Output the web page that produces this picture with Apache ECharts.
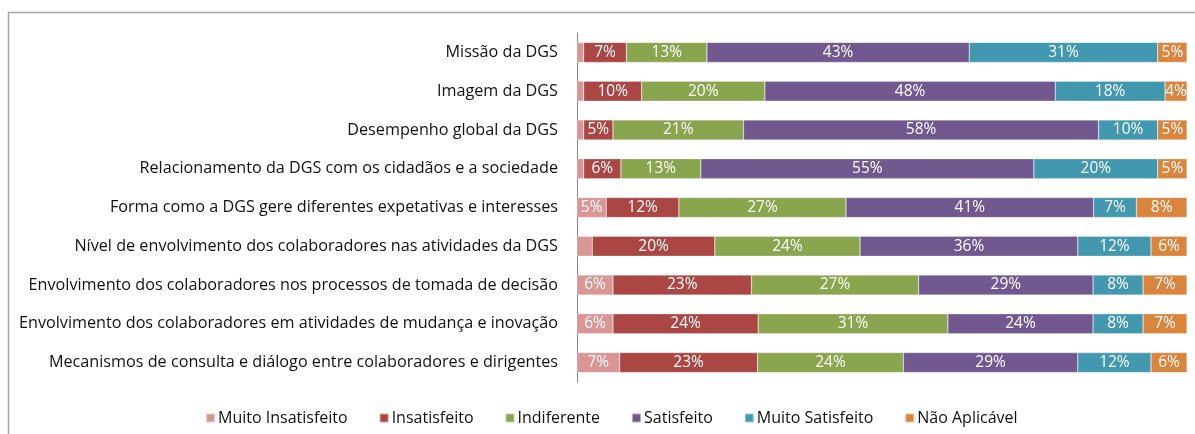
<!DOCTYPE html>
<html>
<head>
<meta charset="utf-8">
<script src="https://cdn.jsdelivr.net/npm/echarts@6/dist/echarts.min.js"></script>
<style>
html,body{margin:0;padding:0;background:#fff;}
#chart{width:1195px;height:434px;}
</style>
</head>
<body>
<div id="chart"></div>
<script>
const categories = [
  "Missão da DGS",
  "Imagem da DGS",
  "Desempenho global da DGS",
  "Relacionamento da DGS com os cidadãos e a sociedade",
  "Forma como a DGS gere diferentes expetativas e interesses",
  "Nível de envolvimento dos colaboradores nas atividades da DGS",
  "Envolvimento dos colaboradores nos processos de tomada de decisão",
  "Envolvimento dos colaboradores em atividades de mudança e inovação",
  "Mecanismos de consulta e diálogo entre colaboradores e dirigentes"
];
const seriesNames = ["Muito Insatisfeito","Insatisfeito","Indiferente","Satisfeito","Muito Satisfeito","Não Aplicável"];
const muitoInsatisfeito = [1.1, 1.1, 1.1, 1.1, 4.8, 2.5, 5.9, 5.9, 7.0];
const insatisfeito      = [7.0, 9.5, 4.8, 6.1, 11.9, 20.1, 22.7, 23.8, 22.6];
const indiferente       = [13.2, 20.2, 21.4, 13.1, 27.4, 23.8, 27.4, 31.1, 23.9];
const satisfeito        = [43.0, 47.6, 58.2, 54.6, 40.6, 35.7, 28.6, 23.8, 28.6];
const muitoSatisfeito   = [30.9, 18.0, 9.7, 20.3, 7.0, 12.0, 8.2, 8.2, 12.0];
const naoAplicavel      = [4.8, 3.6, 4.8, 4.8, 8.3, 5.9, 7.2, 7.2, 5.9];
const colors = ["#D99694","#AA4643","#89A54E","#71588F","#4198AF","#DB843D"];

const allValues = [muitoInsatisfeito, insatisfeito, indiferente, satisfeito, muitoSatisfeito, naoAplicavel];
const FONT = "Open Sans";

const chart = echarts.init(document.getElementById('chart'));
chart.setOption({
  animation: false,
  textStyle: {fontFamily: FONT},
  graphic: [{
    type: 'rect', shape: {x: 8.5, y: 12.5, width: 1200, height: 440},
    style: {fill: 'none', stroke: '#a6a6a6', lineWidth: 1.5}, silent: true, z: -1
  }],
  grid: {left: 577, right: 8, top: 33, height: 349, containLabel: false},
  xAxis: {
    type: 'value', min: 0, max: 100, show: false
  },
  yAxis: {
    type: 'category', data: categories, inverse: true,
    axisLine: {show: true, lineStyle: {color: '#868686', width: 1}},
    axisTick: {show: false},
    axisLabel: {color: '#111', fontSize: 16.2, margin: 19, fontFamily: FONT}
  },
  legend: {
    data: seriesNames, bottom: 3, left: 200,
    itemWidth: 9, itemHeight: 9, itemGap: 31, icon: 'rect',
    textStyle: {color: '#111', fontSize: 16, fontFamily: FONT, padding: [0,0,0,-2]}
  },
  series: seriesNames.map((name, i) => ({
    name, type: 'bar', stack: 'total', barWidth: 20,
    data: allValues[i],
    itemStyle: {color: colors[i], borderColor: 'rgba(255,255,255,0.5)', borderWidth: 0.5},
    label: {
      show: true, position: 'inside', color: '#fff', fontSize: 15.5, fontFamily: FONT,
      formatter: p => p.value >= 3 ? Math.round(p.value) + '%' : ''
    }
  }))
});
</script>
</body>
</html>
